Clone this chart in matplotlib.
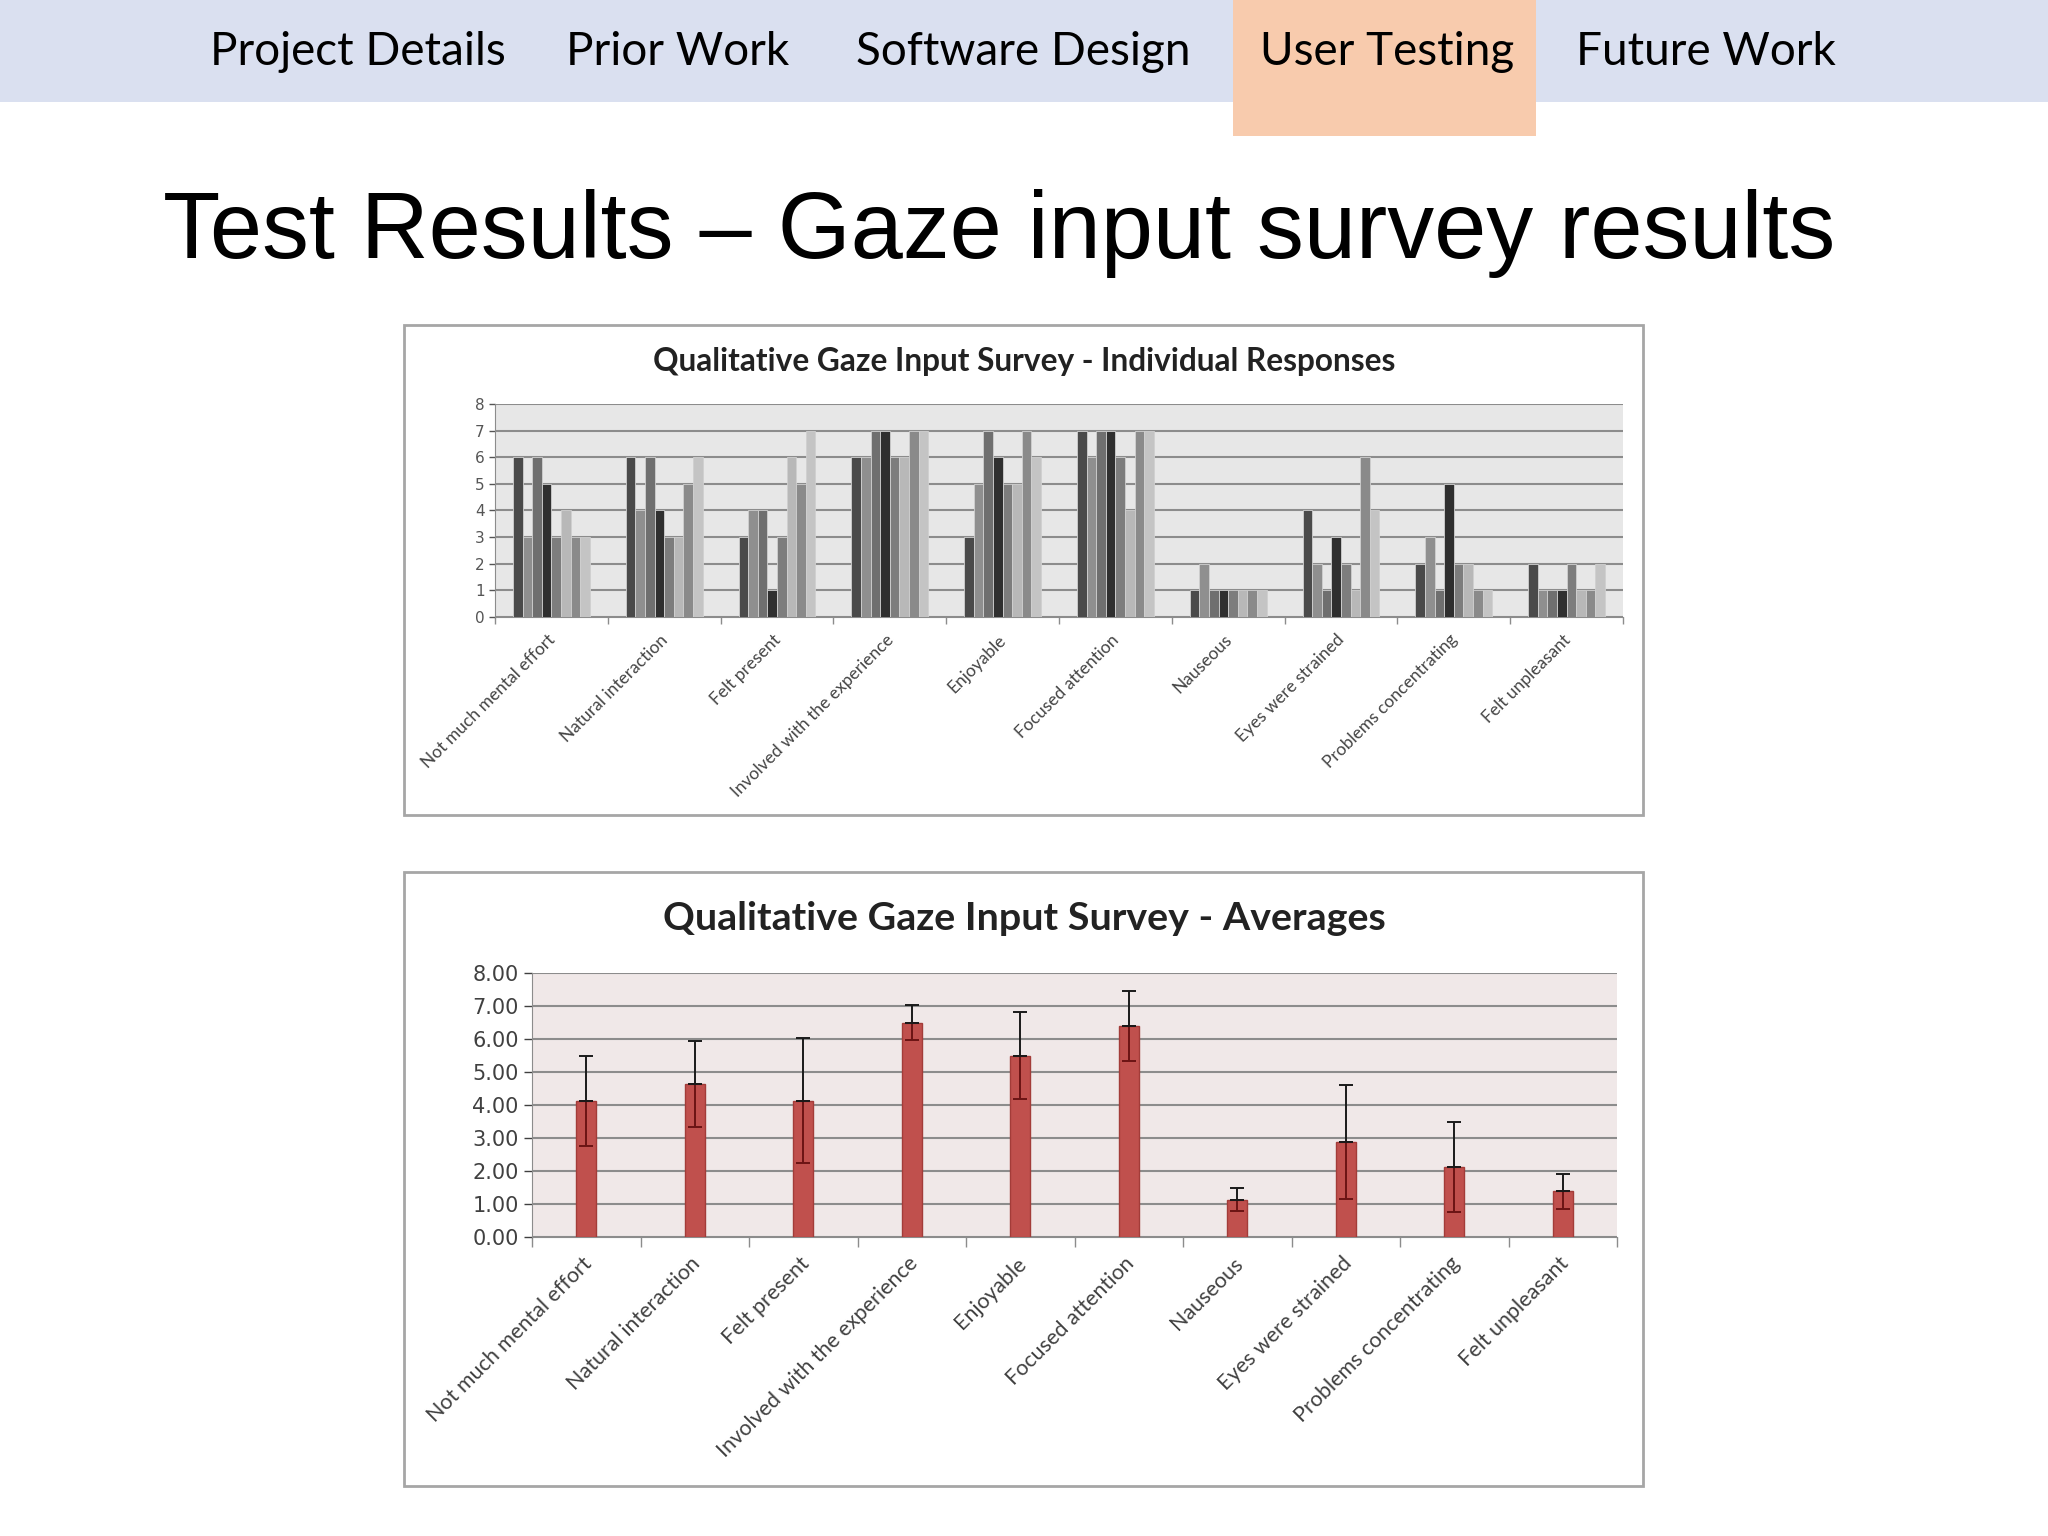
import numpy as np
import matplotlib
matplotlib.use('Agg')
import matplotlib.pyplot as plt
from matplotlib.patches import Rectangle

W, H = 2048, 1536

# categorias do questionario
categorias = ['Not much mental effort', 'Natural interaction', 'Felt present',
              'Involved with the experience', 'Enjoyable', 'Focused attention',
              'Nauseous', 'Eyes were strained', 'Problems concentrating',
              'Felt unpleasant']

# respostas individuais (8 participantes por categoria)
respostas = [
    [6, 3, 6, 5, 3, 4, 3, 3],
    [6, 4, 6, 4, 3, 3, 5, 6],
    [3, 4, 4, 1, 3, 6, 5, 7],
    [6, 6, 7, 7, 6, 6, 7, 7],
    [3, 5, 7, 6, 5, 5, 7, 6],
    [7, 6, 7, 7, 6, 4, 7, 7],
    [1, 2, 1, 1, 1, 1, 1, 1],
    [4, 2, 1, 3, 2, 1, 6, 4],
    [2, 3, 1, 5, 2, 2, 1, 1],
    [2, 1, 1, 1, 2, 1, 1, 2],
]

medias = [4.13, 4.63, 4.13, 6.50, 5.50, 6.38, 1.13, 2.88, 2.13, 1.38]
desvios = [1.36, 1.30, 1.89, 0.53, 1.31, 1.06, 0.35, 1.73, 1.36, 0.52]

menu = ['Project Details', 'Prior Work', 'Software Design', 'User Testing', 'Future Work']
menu_x = [358, 678, 1023, 1387, 1706]

cinzas = ['#4a4a4a', '#8f8f8f', '#6f6f6f', '#2f2f2f', '#7d7d7d', '#b8b8b8', '#8a8a8a', '#c4c4c4']


def rect(x0, y0, x1, y1):
    return [x0 / W, 1 - y1 / H, (x1 - x0) / W, (y1 - y0) / H]


fig = plt.figure(figsize=(W / 100, H / 100), dpi=100)
fig.patch.set_facecolor('white')

# barra de navegacao
fig.patches.append(Rectangle((0, 1 - 102 / H), 1, 102 / H, transform=fig.transFigure,
                             facecolor='#dae0f0', edgecolor='none', zorder=-3))
fig.patches.append(Rectangle((1233 / W, 1 - 136 / H), (1536 - 1233) / W, 136 / H,
                             transform=fig.transFigure, facecolor='#f8cbad',
                             edgecolor='none', zorder=-2))
for nome, x in zip(menu, menu_x):
    fig.text(x / W, 1 - 52 / H, nome, ha='center', va='center', fontsize=33,
             family='Lato', color='black')

fig.text(163 / W, 1 - 233 / H, 'Test Results \u2013 Gaze input survey results',
         ha='left', va='center', fontsize=67.5, family='Liberation Sans', color='black')

# caixas dos graficos
for (x0, y0, x1, y1) in [(404, 325, 1643, 815), (404, 872, 1643, 1486)]:
    fig.patches.append(Rectangle((x0 / W, 1 - y1 / H), (x1 - x0) / W, (y1 - y0) / H,
                                 transform=fig.transFigure, facecolor='white',
                                 edgecolor='#a6a6a6', linewidth=2, zorder=-1))

x = np.arange(len(categorias))

# ---- grafico 1: respostas individuais
ax1 = fig.add_axes(rect(495, 404, 1623, 617))
ax1.set_facecolor('#e7e7e7')
n = len(respostas[0])
larg = 0.68 / n
for j in range(n):
    vals = [r[j] for r in respostas]
    ax1.bar(x - 0.34 + larg * (j + 0.5), vals, width=larg, color=cinzas[j],
            edgecolor='#d0d0d0', linewidth=0.6, zorder=3)
ax1.set_ylim(0, 8)
ax1.set_xlim(-0.5, len(categorias) - 0.5)
ax1.set_yticks(range(0, 9))
ax1.tick_params(axis='y', labelsize=11, colors='#555555', length=4, width=1)
ax1.yaxis.grid(True, color='#8c8c8c', linewidth=1.5, zorder=1)
ax1.set_axisbelow(True)
ax1.set_xticks(np.arange(len(categorias) + 1) - 0.5, minor=False)
ax1.set_xticklabels([])
ax1.tick_params(axis='x', length=5, color='#8c8c8c', width=1)
for i, c in enumerate(categorias):
    ax1.text(i - 0.04, -0.55, c, rotation=45, rotation_mode='anchor', ha='right',
             va='top', fontsize=12.5, color='#444444', family='Lato')
for s in ['top', 'right']:
    ax1.spines[s].set_visible(False)
ax1.spines['left'].set_color('#8c8c8c')
ax1.spines['bottom'].set_color('#8c8c8c')
fig.text(1024 / W, 1 - 362 / H, 'Qualitative Gaze Input Survey - Individual Responses',
         ha='center', va='center', fontsize=22.8, fontweight='bold', family='Lato',
         color='#222222')

# ---- grafico 2: medias
ax2 = fig.add_axes(rect(532, 973, 1617, 1237))
ax2.set_facecolor('#f0e8e8')
ax2.bar(x, medias, width=0.185, color='#c0504d', edgecolor='#a33c39', linewidth=1,
        zorder=3)
zeros = [0] * len(medias)
# parte de baixo do erro (sobre a barra) fica vermelho escuro
ax2.errorbar(x, medias, yerr=[desvios, zeros], fmt='none', ecolor='#6b1414',
             elinewidth=1.4, capsize=5, capthick=1.4, zorder=4)
ax2.errorbar(x, medias, yerr=[zeros, desvios], fmt='none', ecolor='#1a1a1a',
             elinewidth=1.4, capsize=5, capthick=1.4, zorder=4)
ax2.set_ylim(0, 8)
ax2.set_xlim(-0.5, len(categorias) - 0.5)
ax2.set_yticks(range(0, 9))
ax2.set_yticklabels(['%.2f' % v for v in range(0, 9)])
ax2.tick_params(axis='y', labelsize=15, colors='#404040', length=6, width=1)
ax2.yaxis.grid(True, color='#8c8c8c', linewidth=1.5, zorder=1)
ax2.set_axisbelow(True)
ax2.set_xticks(np.arange(len(categorias) + 1) - 0.5)
ax2.set_xticklabels([])
ax2.tick_params(axis='x', length=7, color='#8c8c8c', width=1)
for i, c in enumerate(categorias):
    ax2.text(i - 0.04, -0.5, c, rotation=45, rotation_mode='anchor', ha='right',
             va='top', fontsize=15.5, color='#404040', family='Lato')
for s in ['top', 'right']:
    ax2.spines[s].set_visible(False)
ax2.spines['left'].set_color('#8c8c8c')
ax2.spines['bottom'].set_color('#8c8c8c')
fig.text(1024 / W, 1 - 918 / H, 'Qualitative Gaze Input Survey - Averages',
         ha='center', va='center', fontsize=28.4, fontweight='bold', family='Lato',
         color='#222222')

plt.savefig('out.png', dpi=100, facecolor='white')
